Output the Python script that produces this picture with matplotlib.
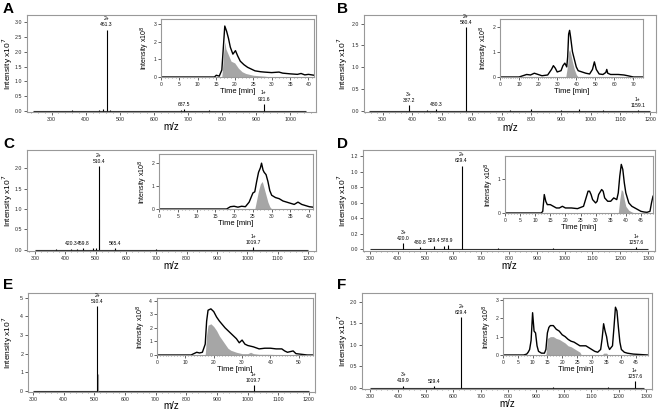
import numpy as np
import matplotlib.pyplot as plt
from matplotlib.ticker import MultipleLocator, FormatStrFormatter

plt.rcParams['font.family'] = ['Liberation Sans', 'DejaVu Sans']

W, H = 661, 412

# ---- mass spectra: peaks (m/z, intensity x10^7) ----
a_range = [245, 1045]
a_mz = [461.3, 687.5, 921.6, 440, 452, 470, 360, 680, 760, 905, 560, 810]
a_int = [2.75, 0.08, 0.25, 0.04, 0.08, 0.03, 0.04, 0.03, 0.03, 0.02, 0.02, 0.02]
a_lab = ["2+\n461.3", "687.5", "1+\n921.6"]

b_range = [255, 1200]
b_mz = [580.4, 387.2, 480.3, 1159.1, 730, 800, 960, 1040, 900, 450]
b_int = [1.92, 0.12, 0.03, 0.02, 0.02, 0.03, 0.03, 0.02, 0.02, 0.02]
b_lab = ["2+\n580.4", "3+\n387.2", "480.3", "1+\n1159.1"]

c_range = [300, 1200]
c_mz = [510.4, 420.3, 459.8, 565.4, 1019.7, 490, 500, 440, 370, 700]
c_int = [2.05, 0.03, 0.04, 0.05, 0.06, 0.04, 0.05, 0.02, 0.02, 0.02]
c_lab = ["2+\n510.4", "420.3", "459.8", "565.4", "1+\n1019.7"]
c_iso_mz = [511.0]
c_iso_int = [0.75]

d_range = [300, 1300]
d_mz = [629.4, 420.0, 480.8, 529.4, 578.9, 1257.6, 565, 960, 760]
d_int = [1.08, 0.08, 0.03, 0.05, 0.06, 0.03, 0.04, 0.02, 0.02]
d_lab = ["2+\n629.4", "3+\n420.0", "480.8", "529.4", "578.9", "1+\n1257.6"]

e_range = [300, 1200]
e_mz = [510.4, 1019.7, 420, 700, 800, 480]
e_int = [4.55, 0.3, 0.03, 0.03, 0.03, 0.03]
e_lab = ["2+\n510.4", "1+\n1019.7"]
e_iso_mz = [511.0]
e_iso_int = [0.9]

f_range = [300, 1290]
f_mz = [629.4, 419.9, 529.4, 1257.6, 960, 1160]
f_int = [1.65, 0.05, 0.04, 0.15, 0.02, 0.02]
f_lab = ["2+\n629.4", "3+\n419.9", "529.4", "1+\n1257.6"]

# ---- chromatograms (time min, intensity x10^8) ----
a_t = [0, 14.5, 15, 15.8, 16.5, 17.3, 17.8, 18.3, 18.8, 19.5, 20.2, 20.8, 21.5, 22.5, 23.5,
       24.5, 25.5, 27, 28, 30, 32, 33, 35, 37, 38, 39, 40, 41.5]
a_tic = [0, 0, 0.1, 0.05, 0.4, 2.9, 2.6, 2.2, 1.7, 1.3, 1.5, 1.2, 0.9, 0.7, 0.55,
         0.45, 0.35, 0.3, 0.28, 0.25, 0.28, 0.22, 0.18, 0.15, 0.2, 0.12, 0.15, 0.1]
a_gt = [16.5, 17.0, 17.3, 17.6, 18, 19, 20, 21, 22, 23, 25, 28, 30]
a_gi = [0, 1.4, 2.0, 1.6, 1.4, 0.9, 0.8, 0.5, 0.3, 0.2, 0.1, 0.05, 0]

b_t = [0, 10, 12, 14, 16, 18, 20, 22, 25, 27, 28, 29, 30, 32, 33, 34, 35, 35.5, 36, 36.5, 37,
       38, 39, 40, 41, 43, 45, 47, 48.5, 49.5, 50.5, 52, 54, 55.5, 56, 56.5, 58, 62, 65, 67, 70, 75]
b_tic = [0, 0, 0.05, 0.1, 0.08, 0.15, 0.1, 0.05, 0.08, 0.3, 0.45, 0.35, 0.2, 0.25, 0.45, 0.55, 0.4,
         0.8, 1.7, 1.85, 1.6, 1.0, 0.7, 0.4, 0.25, 0.2, 0.15, 0.12, 0.3, 0.6, 0.3, 0.12, 0.1, 0.18,
         0.3, 0.15, 0.1, 0.1, 0.08, 0.05, 0, 0]
b_gt = [34.5, 35.5, 36, 36.5, 37, 38, 39, 40, 41]
b_gi = [0, 0.5, 1.0, 1.1, 0.95, 0.6, 0.3, 0.1, 0]

c_t = [0, 18, 19, 20, 21, 22, 23, 24, 25, 25.5, 26, 26.5, 27, 27.3, 27.7, 28, 28.5, 29, 29.5,
       30, 31, 32, 33, 34, 35, 36, 37, 38, 39, 40, 41]
c_tic = [0, 0, 0.1, 0.12, 0.08, 0.12, 0.1, 0.3, 0.7, 0.75, 1.2, 1.6, 1.8, 2.0, 1.7, 1.6, 1.5, 1.2,
         0.8, 0.6, 0.5, 0.45, 0.35, 0.3, 0.25, 0.2, 0.3, 0.2, 0.15, 0.1, 0.08]
c_gt = [25.5, 26, 26.5, 27, 27.5, 28, 28.5, 29, 29.5, 30]
c_gi = [0, 0.4, 0.8, 1.1, 1.2, 0.9, 0.6, 0.3, 0.1, 0]

d_t = [0, 12, 12.5, 13, 13.5, 14, 15, 16, 17, 18, 19, 20, 22, 24, 26, 27, 27.5, 28, 28.5, 29,
       30, 30.5, 31, 32, 32.5, 33, 34, 35, 36, 37, 37.5, 38, 38.5, 39, 39.5, 40, 41, 42, 43, 44,
       45, 46, 47, 48, 48.5, 49]
d_tic = [0, 0, 0.05, 0.55, 0.35, 0.25, 0.25, 0.2, 0.15, 0.15, 0.2, 0.15, 0.15, 0.13, 0.2, 0.5,
         0.65, 0.65, 0.55, 0.4, 0.3, 0.35, 0.55, 0.7, 0.65, 0.45, 0.35, 0.35, 0.45, 0.4, 0.6, 1.1,
         1.45, 1.3, 0.9, 0.6, 0.3, 0.2, 0.15, 0.1, 0.05, 0.03, 0.02, 0.05, 0.3, 0.5]
d_gt = [37.5, 38, 38.5, 39, 39.5, 40, 41, 42, 43]
d_gi = [0, 0.4, 0.7, 0.65, 0.4, 0.2, 0.08, 0.03, 0]

e_t = [0, 12, 13, 14, 15, 16, 17, 17.5, 18, 19, 20, 21, 22, 24, 26, 28, 29, 30, 31, 32, 34,
       36, 38, 40, 42, 44, 45, 46, 48, 49, 51, 53, 55]
e_tic = [0, 0, 0.1, 0.2, 0.15, 0.2, 0.8, 2.5, 3.3, 3.4, 3.2, 2.8, 2.5, 2.0, 1.6, 1.2, 0.9, 1.1,
         0.8, 0.7, 0.6, 0.45, 0.5, 0.5, 0.45, 0.45, 0.3, 0.2, 0.3, 0.1, 0.05, 0, 0]
e_gt = [17, 17.5, 18, 19, 20, 21, 22, 23, 24, 25, 26, 28, 30, 32, 33, 34, 36, 40, 45]
e_gi = [0, 1.5, 2.2, 2.3, 2.1, 1.8, 1.4, 1.1, 0.8, 0.5, 0.35, 0.2, 0.1, 0.1, 0.2, 0.1, 0.05, 0.05, 0]

f_t = [0, 7, 8, 8.5, 9, 9.5, 10, 10.5, 11, 11.5, 12, 13, 14, 14.5, 15, 15.5, 16, 17, 18, 19, 20,
       21, 22, 23, 24, 25, 26, 27, 28, 29, 30, 31, 32, 33, 33.5, 34, 34.5, 35, 35.5, 36, 37, 37.5,
       38, 38.5, 39, 39.5, 40, 41, 42, 44, 46, 49]
f_tic = [0, 0, 0.05, 0.15, 0.3, 0.8, 2.3, 1.3, 1.2, 0.5, 0.2, 0.1, 0.1, 0.3, 1.2, 1.5, 1.6, 1.6,
         1.4, 1.3, 1.1, 1.0, 0.85, 0.75, 0.7, 0.6, 0.5, 0.5, 0.5, 0.4, 0.3, 0.2, 0.15, 0.3, 0.9,
         1.7, 1.3, 1.0, 0.5, 0.3, 0.5, 1.5, 2.6, 2.4, 1.5, 0.7, 0.3, 0.15, 0.1, 0.05, 0.03, 0]
f_gt = [14.5, 15, 16, 17, 18, 19, 20, 21, 22, 23, 24, 25, 26, 26.5, 33.5, 34, 35, 35.5]
f_gi = [0, 0.9, 1.0, 1.0, 0.9, 0.85, 0.75, 0.65, 0.5, 0.45, 0.35, 0.25, 0.15, 0, 0, 0.1, 0.1, 0]

fig = plt.figure(figsize=(W / 100, H / 100), dpi=100)


def box(l, t, r, b):
    return [l / W, 1 - b / H, (r - l) / W, (b - t) / H]


def style(ax, fs):
    for s in ax.spines.values():
        s.set_color('0.6')
        s.set_linewidth(0.8)
    ax.tick_params(labelsize=fs, length=2, width=0.5, pad=1.5, colors='0.15')


def spectrum(pos, rng, mz, inten, labs, xlim, ylim, ystep, yfmt, xmax_tick, xl_y, yl_x,
             iso_mz=None, iso_int=None):
    l, t, r, b = pos
    ax = fig.add_axes(box(*pos))
    style(ax, 3.8)
    ax.hlines(0, rng[0], rng[1], color='0.2', lw=0.8)
    if iso_mz is not None:
        ax.vlines(iso_mz, 0, iso_int, color='0.6', lw=0.8)
    ax.vlines(mz, 0, inten, color='k', lw=0.8)
    for i, lab in enumerate(labs):
        ax.annotate(lab, (mz[i], inten[i]), xytext=(0, 1.5), textcoords='offset points',
                    ha='center', va='bottom', fontsize=3.6, linespacing=1.3)
    ax.set_xlim(xlim)
    ax.set_ylim(ylim)
    ax.set_xticks(np.arange(300, xmax_tick + 1, 100))
    ax.xaxis.set_minor_locator(MultipleLocator(20))
    ax.yaxis.set_major_locator(MultipleLocator(ystep))
    ax.yaxis.set_major_formatter(FormatStrFormatter(yfmt))
    ax.tick_params(which='minor', length=1, width=0.4, colors='0.3')
    ax.set_xlabel('m/z', fontsize=7, va='center')
    ax.set_ylabel('Intensity x10$^7$', fontsize=6, va='center')
    # label positions given in figure pixels
    ax.xaxis.set_label_coords(0.5, -(xl_y - b) / (b - t))
    ax.yaxis.set_label_coords((yl_x - l) / (r - l), 0.5)
    return ax


def inset(pos, t, tic, gt, gi, xlim, ylim, xstep):
    ax = fig.add_axes(box(*pos))
    style(ax, 3.6)
    ax.fill_between(gt, 0, gi, color='0.65', lw=0)
    ax.plot(t, tic, color='k', lw=1.0)
    ax.set_xlim(xlim)
    ax.set_ylim(ylim)
    ax.xaxis.set_major_locator(MultipleLocator(xstep))
    ax.xaxis.set_minor_locator(MultipleLocator(1))
    ax.yaxis.set_major_locator(MultipleLocator(1))
    ax.tick_params(which='minor', length=1, width=0.4, colors='0.3')
    ax.set_xlabel('Time [min]', fontsize=5.5, labelpad=0.5)
    ax.set_ylabel('Intensity x10$^8$', fontsize=5, labelpad=1)
    return ax


# A
spectrum((27, 15, 316, 112), a_range, a_mz, a_int, a_lab, (228, 1075), (-0.03, 3.24), 0.5, '%.1f', 1000,
         127, 8)
inset((161, 19, 314, 77), a_t, a_tic, a_gt, a_gi, (0, 41.5), (0, 3.3), 5)
# B
spectrum((364, 15, 656, 112), b_range, b_mz, b_int, b_lab, (237, 1220), (-0.03, 2.2), 0.5, '%.1f', 1200,
         128, 343)
inset((500, 19, 643, 77), b_t, b_tic, b_gt, b_gi, (0, 75), (0, 2.3), 10)
# C
spectrum((27, 150, 316, 251), c_range, c_mz, c_int, c_lab, (274, 1226), (-0.03, 2.45), 0.5, '%.1f', 1200,
         266, 8, c_iso_mz, c_iso_int)
inset((159, 154, 313, 209), c_t, c_tic, c_gt, c_gi, (0, 41), (0, 2.4), 5)
# D
spectrum((363, 150, 655, 251), d_range, d_mz, d_int, d_lab, (275, 1325), (-0.02, 1.28), 0.2, '%.1f', 1300,
         266, 343)
inset((505, 156, 653, 213), d_t, d_tic, d_gt, d_gi, (0, 49), (0, 1.7), 5)
# E
spectrum((28, 293, 315, 392), e_range, e_mz, e_int, e_lab, (284, 1220), (-0.05, 5.26), 1, '%d', 1200,
         406, 8, e_iso_mz, e_iso_int)
inset((157, 298, 313, 355), e_t, e_tic, e_gt, e_gi, (0, 55), (0, 4.2), 10)
# F
spectrum((362, 293, 652, 389), f_range, f_mz, f_int, f_lab, (270, 1320), (-0.03, 2.21), 0.5, '%.1f', 1300,
         404, 343)
inset((503, 298, 648, 355), f_t, f_tic, f_gt, f_gi, (0, 49), (0, 3.1), 5)

# panel letters
for lab, x, y in [('A', 3, 2), ('B', 337, 2), ('C', 3, 137), ('D', 337, 137), ('E', 3, 278), ('F', 337, 278)]:
    fig.text(x / W, 1 - y / H, lab, fontsize=11, fontweight='bold', va='top', ha='left')

fig.savefig('out.png', dpi=100)
